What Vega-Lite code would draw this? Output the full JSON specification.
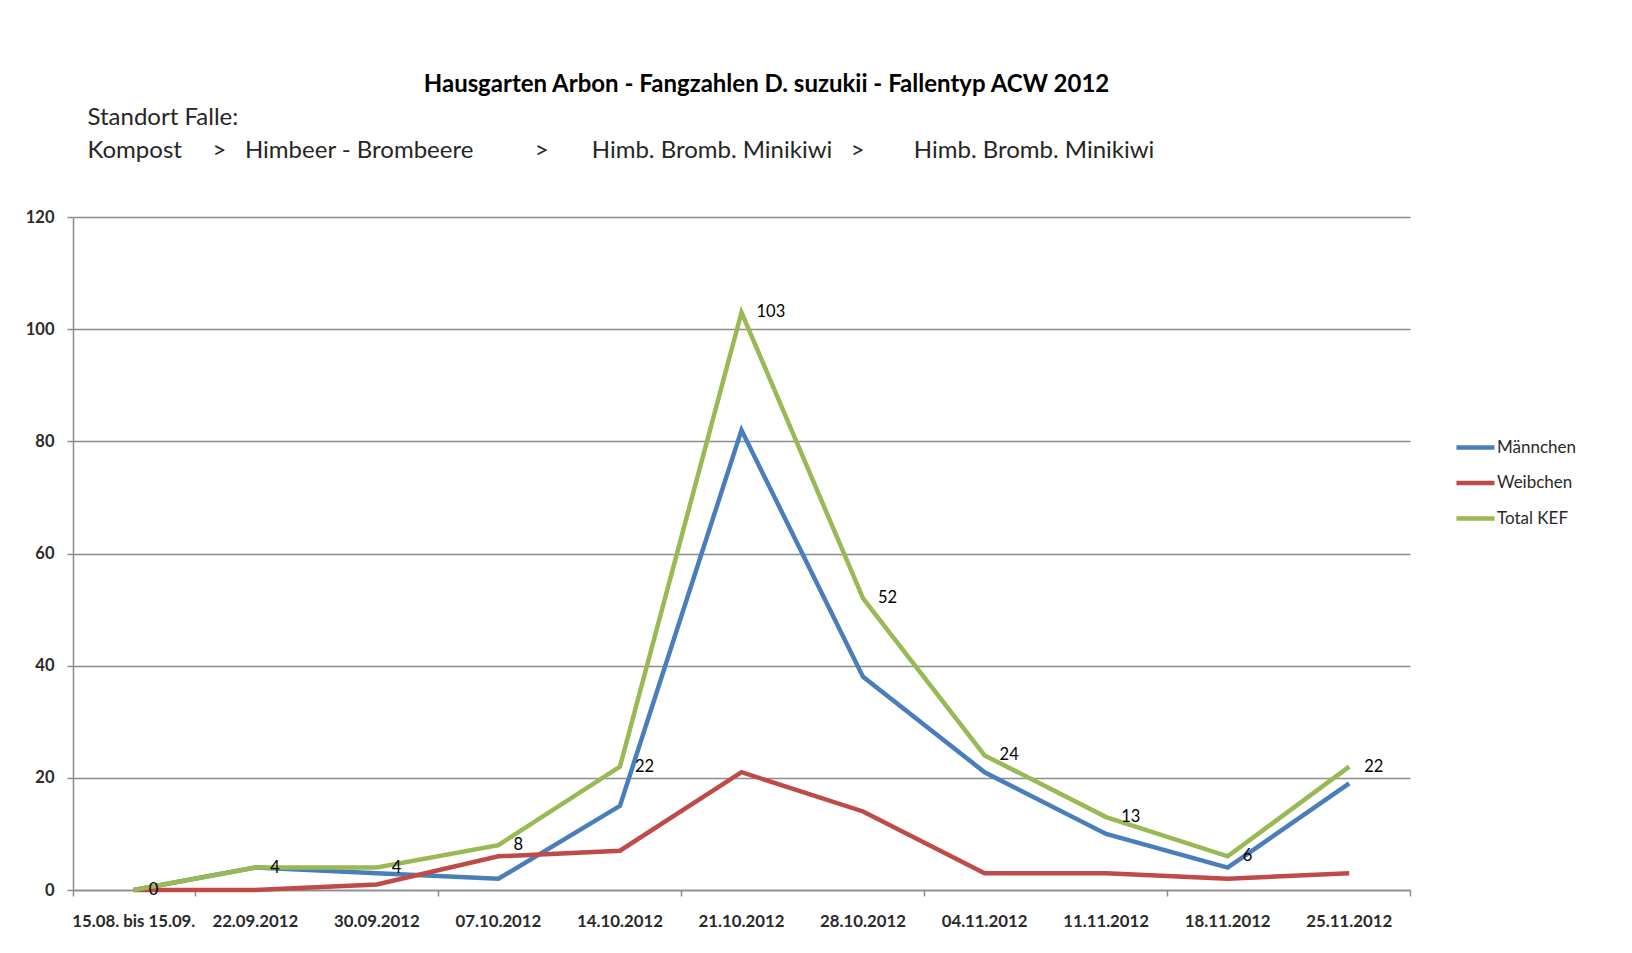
{
  "$schema": "https://vega.github.io/schema/vega-lite/v6.json",
  "width": 1337,
  "height": 673,
  "autosize": {"type": "none"},
  "padding": {"left": 73, "top": 217, "right": 222, "bottom": 63},
  "background": "white",
  "title": {
    "text": "Hausgarten Arbon - Fangzahlen D. suzukii - Fallentyp ACW 2012",
    "anchor": "middle",
    "frame": "group",
    "dx": 25,
    "offset": 8,
    "font": "Lato",
    "fontSize": 24,
    "fontWeight": "bold",
    "color": "#000000"
  },
  "data": {
    "values": [
      {"Datum": "15.08. bis 15.09.", "Serie": "Männchen", "Anzahl": 0},
      {"Datum": "22.09.2012", "Serie": "Männchen", "Anzahl": 4},
      {"Datum": "30.09.2012", "Serie": "Männchen", "Anzahl": 3},
      {"Datum": "07.10.2012", "Serie": "Männchen", "Anzahl": 2},
      {"Datum": "14.10.2012", "Serie": "Männchen", "Anzahl": 15},
      {"Datum": "21.10.2012", "Serie": "Männchen", "Anzahl": 82},
      {"Datum": "28.10.2012", "Serie": "Männchen", "Anzahl": 38},
      {"Datum": "04.11.2012", "Serie": "Männchen", "Anzahl": 21},
      {"Datum": "11.11.2012", "Serie": "Männchen", "Anzahl": 10},
      {"Datum": "18.11.2012", "Serie": "Männchen", "Anzahl": 4},
      {"Datum": "25.11.2012", "Serie": "Männchen", "Anzahl": 19},
      {"Datum": "15.08. bis 15.09.", "Serie": "Weibchen", "Anzahl": 0},
      {"Datum": "22.09.2012", "Serie": "Weibchen", "Anzahl": 0},
      {"Datum": "30.09.2012", "Serie": "Weibchen", "Anzahl": 1},
      {"Datum": "07.10.2012", "Serie": "Weibchen", "Anzahl": 6},
      {"Datum": "14.10.2012", "Serie": "Weibchen", "Anzahl": 7},
      {"Datum": "21.10.2012", "Serie": "Weibchen", "Anzahl": 21},
      {"Datum": "28.10.2012", "Serie": "Weibchen", "Anzahl": 14},
      {"Datum": "04.11.2012", "Serie": "Weibchen", "Anzahl": 3},
      {"Datum": "11.11.2012", "Serie": "Weibchen", "Anzahl": 3},
      {"Datum": "18.11.2012", "Serie": "Weibchen", "Anzahl": 2},
      {"Datum": "25.11.2012", "Serie": "Weibchen", "Anzahl": 3},
      {"Datum": "15.08. bis 15.09.", "Serie": "Total KEF", "Anzahl": 0},
      {"Datum": "22.09.2012", "Serie": "Total KEF", "Anzahl": 4},
      {"Datum": "30.09.2012", "Serie": "Total KEF", "Anzahl": 4},
      {"Datum": "07.10.2012", "Serie": "Total KEF", "Anzahl": 8},
      {"Datum": "14.10.2012", "Serie": "Total KEF", "Anzahl": 22},
      {"Datum": "21.10.2012", "Serie": "Total KEF", "Anzahl": 103},
      {"Datum": "28.10.2012", "Serie": "Total KEF", "Anzahl": 52},
      {"Datum": "04.11.2012", "Serie": "Total KEF", "Anzahl": 24},
      {"Datum": "11.11.2012", "Serie": "Total KEF", "Anzahl": 13},
      {"Datum": "18.11.2012", "Serie": "Total KEF", "Anzahl": 6},
      {"Datum": "25.11.2012", "Serie": "Total KEF", "Anzahl": 22}
    ]
  },
  "config": {
    "font": "Lato",
    "view": {"stroke": null},
    "axis": {"labelFont": "Lato", "titleFont": "Lato"},
    "legend": {"labelFont": "Lato"}
  },
  "resolve": {"axis": {"x": "independent"}},
  "layer": [
    {
      "mark": {"type": "line", "strokeWidth": 4.5, "strokeJoin": "miter"},
      "encoding": {
        "x": {
          "field": "Datum",
          "type": "nominal",
          "sort": null,
          "bandPosition": 0.5,
          "scale": {"type": "band", "paddingInner": 0, "paddingOuter": 0},
          "axis": {
            "orient": "bottom",
            "title": null,
            "labelAngle": 0,
            "ticks": false,
            "tickSize": 0,
            "labelPadding": 23,
            "labelFontSize": 16.8,
            "labelFontWeight": "bold",
            "labelColor": "#2a2a2a",
            "domainColor": "#8c8c8c",
            "domainWidth": 1.5,
            "grid": false
          }
        },
        "y": {
          "field": "Anzahl",
          "type": "quantitative",
          "scale": {"domain": [0, 120], "nice": false},
          "axis": {
            "title": null,
            "values": [0, 20, 40, 60, 80, 100, 120],
            "tickSize": 6,
            "tickColor": "#8c8c8c",
            "tickWidth": 1.5,
            "labelPadding": 13,
            "labelFontSize": 16.5,
            "labelFontWeight": "bold",
            "labelColor": "#2a2a2a",
            "domainColor": "#8c8c8c",
            "domainWidth": 1.5,
            "gridColor": "#8c8c8c",
            "gridWidth": 1.5
          }
        },
        "color": {
          "field": "Serie",
          "type": "nominal",
          "sort": null,
          "scale": {
            "domain": ["Männchen", "Weibchen", "Total KEF"],
            "range": ["#4a7ebb", "#be4b48", "#98b954"]
          },
          "legend": {
            "title": null,
            "orient": "none",
            "legendX": 1381,
            "legendY": 209,
            "symbolType": "stroke",
            "symbolSize": 1450,
            "symbolStrokeWidth": 4.5,
            "labelFontSize": 17,
            "labelColor": "#2a2a2a",
            "labelOffset": 0,
            "rowPadding": 4.5
          }
        }
      }
    },
    {
      "transform": [{"filter": "datum.Serie === 'Total KEF'"}],
      "mark": {"type": "text", "align": "left", "baseline": "middle", "dx": 15, "fontSize": 16.5, "color": "#000000"},
      "encoding": {
        "x": {
          "field": "Datum",
          "type": "nominal",
          "sort": null,
          "bandPosition": 0.5,
          "scale": {"type": "band", "paddingInner": 0, "paddingOuter": 0},
          "axis": {
            "orient": "bottom",
            "title": null,
            "values": ["15.08. bis 15.09.", "30.09.2012", "14.10.2012", "28.10.2012", "11.11.2012", "25.11.2012"],
            "tickBand": "extent",
            "tickExtra": false,
            "labels": false,
            "domain": false,
            "grid": false,
            "ticks": true,
            "tickSize": 6,
            "tickColor": "#8c8c8c",
            "tickWidth": 1.5
          }
        },
        "y": {"field": "Anzahl", "type": "quantitative"},
        "text": {"field": "Anzahl", "type": "quantitative"}
      }
    },
    {
      "mark": {"type": "point", "opacity": 0},
      "encoding": {
        "x": {
          "field": "Datum",
          "type": "nominal",
          "sort": null,
          "bandPosition": 0.5,
          "scale": {"type": "band", "paddingInner": 0, "paddingOuter": 0},
          "axis": {
            "orient": "top",
            "title": ["Standort Falle:", "Kompost\u00a0\u00a0\u00a0\u00a0\u00a0>\u00a0\u00a0\u00a0Himbeer - Brombeere\u00a0\u00a0\u00a0\u00a0\u00a0\u00a0\u00a0\u00a0\u00a0\u00a0>\u00a0\u00a0\u00a0\u00a0\u00a0\u00a0\u00a0Himb. Bromb. Minikiwi\u00a0\u00a0\u00a0>\u00a0\u00a0\u00a0\u00a0\u00a0\u00a0\u00a0\u00a0Himb. Bromb. Minikiwi"],
            "titleX": 14,
            "titleY": -93,
            "titleAlign": "left",
            "titleAnchor": "start",
            "titleBaseline": "alphabetic",
            "titleLineHeight": 33,
            "titleFontSize": 24,
            "titleFontWeight": "normal",
            "titleColor": "#262626",
            "labels": false,
            "ticks": false,
            "domain": false,
            "grid": false
          }
        },
        "y": {"field": "Anzahl", "type": "quantitative"}
      }
    }
  ]
}
